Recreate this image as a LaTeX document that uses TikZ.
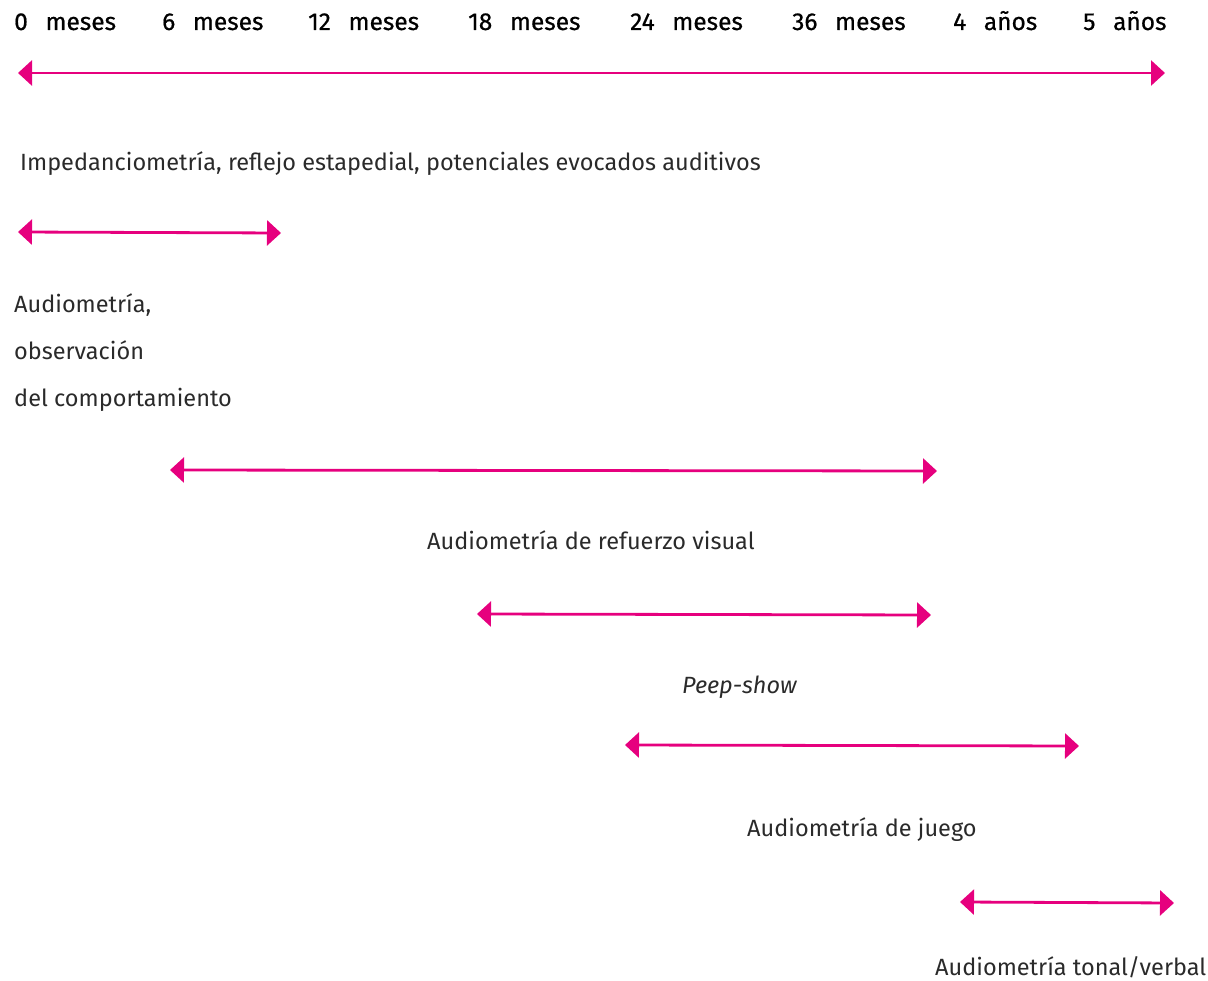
\documentclass[tikz,border=0pt]{standalone}
\usepackage{fontspec}
\setmainfont{Fira Sans}
\newfontfamily\hdrfont{Fira Sans}[FakeBold=0.6]
\usetikzlibrary{arrows.meta}
\definecolor{mag}{HTML}{E6007E}
\definecolor{txt}{HTML}{2A2A2A}
\tikzset{
  arr/.style={draw=mag, line width=2.8pt, {Triangle[length=14pt,width=25pt]}-{Triangle[length=14pt,width=25pt]}},
  lbl/.style={anchor=base west, inner sep=0pt, text=txt, font=\fontsize{23.5}{27}\selectfont},
  hdr/.style={anchor=base west, inner sep=0pt, text=black, font=\hdrfont\fontsize{24.5}{28}\selectfont}
}
\newcommand{\hgap}{\hspace{0.72em}}
\begin{document}
\begin{tikzpicture}[x=1pt,y=-1pt]
\useasboundingbox (0,0) rectangle (1208,981);
% header
\node[hdr] (h0) at (14,30) {0\hgap meses};
\node[hdr] (h6) at (162,30) {6\hgap meses};
\node[hdr] (h12) at (308,30) {12\hgap meses};
\node[hdr] (h18) at (468,30) {18\hgap meses};
\node[hdr] (h24) at (630,30) {24\hgap meses};
\node[hdr] (h36) at (792,30) {36\hgap meses};
\node[hdr] (h4) at (953,30) {4\hgap años};
\node[hdr] (h5) at (1083,30) {5\hgap años};
% arrows
\coordinate (a1l) at (18,73);  \coordinate (a1r) at (1165,73);
\coordinate (a2l) at (18,232); \coordinate (a2r) at (281,233);
\coordinate (a3l) at (170,470); \coordinate (a3r) at (937,471);
\coordinate (a4l) at (477,614); \coordinate (a4r) at (931,615);
\coordinate (a5l) at (625,745); \coordinate (a5r) at (1079,746);
\coordinate (a6l) at (960,902); \coordinate (a6r) at (1174,903);
\draw[arr] (a1l) -- (a1r);
\draw[arr] (a2l) -- (a2r);
\draw[arr] (a3l) -- (a3r);
\draw[arr] (a4l) -- (a4r);
\draw[arr] (a5l) -- (a5r);
\draw[arr] (a6l) -- (a6r);
% labels
\node[lbl] (t1) at (20,171) {Impedanciometría, reflejo estapedial, potenciales evocados auditivos};
\node[lbl] (t2a) at (14,313) {Audiometría,};
\node[lbl] (t2b) at (14,360) {observación};
\node[lbl] (t2c) at (14,407) {del comportamiento};
\node[lbl] (t3) at (427,549) {Audiometría de refuerzo visual};
\node[lbl] (t4) at (682,693) {\itshape Peep-show};
\node[lbl] (t5) at (747,836) {Audiometría de juego};
\node[lbl] (t6) at (935,975) {Audiometría tonal/verbal};
\end{tikzpicture}
\end{document}
